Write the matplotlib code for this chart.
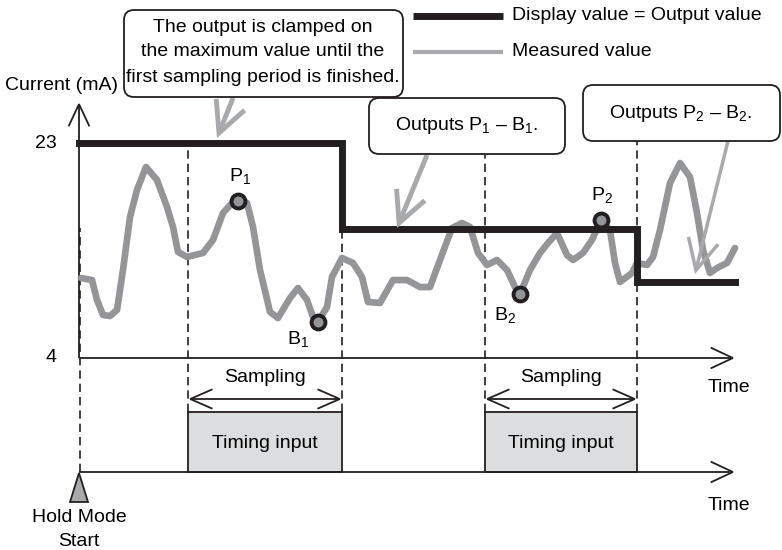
import numpy as np
import matplotlib
matplotlib.use("Agg")
import matplotlib.pyplot as plt
from matplotlib.patches import FancyBboxPatch, Rectangle, Polygon, FancyArrowPatch

plt.rcParams['font.family'] = ['Liberation Sans', 'DejaVu Sans']
plt.rcParams['mathtext.fontset'] = 'custom'
plt.rcParams['mathtext.rm'] = 'Liberation Sans'
plt.rcParams['mathtext.it'] = 'Liberation Sans'

# measured current (time units, mA)
meas_t = [0.2, 1.3, 1.8, 2.4, 3.1, 3.8, 4.4, 5.1, 5.8, 6.7, 7.8, 8.8, 9.4, 9.9, 10.8,
          12.4, 13.4, 14.4, 15.4, 15.9, 16.8, 17.4, 18.1, 19.1, 19.9, 21.1, 21.9, 22.8,
          23.4, 23.9, 24.8, 25.3, 26.3, 27.4, 28.3, 28.9, 30.1, 31.4, 32.8, 34.1, 35.1,
          36.1, 37.3, 38.3, 39.1, 39.9, 40.8, 41.8, 42.8, 43.6, 44.1, 45.1, 46.1, 46.9,
          47.8, 48.8, 49.4, 50.4, 51.3, 52.2, 53.1, 53.6, 54.1, 55.3, 55.8, 56.8, 57.4,
          58.1, 59.1, 60.1, 61.1, 61.8, 62.4, 63.1, 63.8, 64.8, 65.6]
meas_ma = [11.07, 10.89, 9.13, 7.80, 7.71, 8.24, 11.78, 16.46, 18.85, 20.88, 19.73, 17.34,
           15.58, 13.37, 12.93, 13.28, 14.43, 16.81, 17.79, 17.87, 17.70, 15.58, 11.78,
           8.07, 7.53, 9.30, 10.19, 9.13, 7.62, 7.18, 8.51, 11.16, 12.84, 12.40, 11.16,
           8.95, 8.86, 10.89, 10.89, 10.27, 10.27, 12.66, 15.49, 15.93, 15.58, 13.28,
           12.22, 12.66, 11.78, 10.27, 9.66, 11.78, 13.28, 14.16, 15.05, 13.10, 12.66,
           13.28, 14.43, 16.20, 15.31, 12.40, 10.72, 11.51, 12.40, 12.22, 12.93, 15.31,
           19.46, 21.23, 20.00, 16.81, 13.54, 11.51, 11.95, 12.40, 13.72]

# display/output value (step)
out_t = [0.0, 26.3, 26.3, 55.8, 55.8, 65.6]
out_ma = [23.0, 23.0, 15.36, 15.36, 10.75, 10.75]

# sampling windows (timing input)
samp_start = [10.9, 40.6]
samp_end = [26.3, 55.8]

# peak / bottom points
pt_names = ['P$_1$', 'B$_1$', 'B$_2$', 'P$_2$']
pt_t = [15.9, 23.9, 44.1, 52.2]
pt_ma = [17.87, 7.18, 9.66, 16.20]

y_ticks = [4, 23]
t_end = 65.6

BLACK = '#231f20'
GRAY = '#939598'
LGRAY = '#a7a9ac'
FS = 14


def X(px):
    return (px - 79) / 10.0


def Y(py):
    return 4 + (358 - py) * 19 / 215.0


fig = plt.figure(figsize=(7.82, 5.5), dpi=100)
ax = fig.add_axes([0, 0, 1, 1])
ax.set_xlim(X(0), X(782))
ax.set_ylim(Y(550), Y(0))
ax.axis('off')
lay = fig.add_axes([0, 0, 1, 1])
lay.set_xlim(0, 782)
lay.set_ylim(550, 0)
lay.axis('off')
lay.patch.set_alpha(0)


def arrow(a, p0, p1, style, lw=1.3, color=BLACK, z=3):
    a.add_patch(FancyArrowPatch(p0, p1, arrowstyle=style, lw=lw, color=color,
                                mutation_scale=10, shrinkA=0, shrinkB=0,
                                joinstyle='miter', capstyle='butt', zorder=z))

# axes arrows
ax_head = '->,head_length=1.6,head_width=0.75'
arrow(ax, (0, 4), (0, Y(102)), ax_head)
arrow(ax, (0, 4), (t_end, 4), ax_head)
arrow(ax, (0, Y(472)), (t_end, Y(472)), ax_head)

# dashed guides
ax.vlines([0.1], Y(472), Y(228), colors=BLACK, lw=1.2, linestyles=(0, (5, 3)), zorder=2)
guide_top = [Y(143), Y(230), Y(155), Y(141)]
for i, (t0, t1) in enumerate(zip(samp_start, samp_end)):
    ax.vlines([t0], Y(412), guide_top[2 * i], colors=BLACK, lw=1.2, linestyles=(0, (5, 3)), zorder=2)
    ax.vlines([t1], Y(412), guide_top[2 * i + 1], colors=BLACK, lw=1.2, linestyles=(0, (5, 3)), zorder=2)
    arrow(ax, (t0, Y(399)), (t1, Y(399)), '<->,head_length=1.6,head_width=0.7')
    ax.text((t0 + t1) / 2, Y(377), 'Sampling', fontsize=FS, ha='center', va='center')
    ax.add_patch(Rectangle((t0, Y(472)), t1 - t0, Y(412) - Y(472), fc='#dcddde',
                           ec=BLACK, lw=1.3, zorder=2))
    ax.text((t0 + t1) / 2, Y(443), 'Timing input', fontsize=FS, ha='center', va='center', zorder=3)

# curves
ax.plot(meas_t, meas_ma, color=GRAY, lw=4.8, solid_joinstyle='round',
        solid_capstyle='round', zorder=4)
ax.plot(out_t, out_ma, color=BLACK, lw=5, solid_joinstyle='miter', zorder=5)
ax.plot(pt_t, pt_ma, 'o', ms=10, mfc=GRAY, mec=BLACK, mew=2.8, zorder=6)
lab_off = [(0.2, 2.2), (-2.0, -1.5), (-1.5, -1.9), (0.1, 2.2)]
for n, t, v, o in zip(pt_names, pt_t, pt_ma, lab_off):
    ax.text(t + o[0], v + o[1], n, fontsize=FS, ha='center', va='center')

# y labels and other text
for v in y_ticks:
    ax.text(X(57), v, str(v), fontsize=FS, ha='right', va='center')
lay.text(118, 85, 'Current (mA)', fontsize=FS, ha='right', va='center')
lay.text(729, 388, 'Time', fontsize=FS, ha='center', va='center')
lay.text(729, 505, 'Time', fontsize=FS, ha='center', va='center')
lay.text(79, 518, 'Hold Mode', fontsize=FS, ha='center', va='center')
lay.text(79, 541, 'Start', fontsize=FS, ha='center', va='center')
lay.add_patch(Polygon([(79, 473), (70, 502), (88, 502)], closed=True, fc='#a7a9ac',
                      ec=BLACK, lw=1.3, zorder=3))

# legend
lay.plot([413, 503], [16, 16], color=BLACK, lw=5, solid_capstyle='butt')
lay.plot([413, 503], [52, 52], color=LGRAY, lw=3, solid_capstyle='butt')
lay.text(512, 16, 'Display value = Output value', fontsize=FS, ha='left', va='center')
lay.text(512, 52, 'Measured value', fontsize=FS, ha='left', va='center')


# callout boxes
def box(x0, y0, x1, y1):
    lay.add_patch(FancyBboxPatch((x0, y0), x1 - x0, y1 - y0,
                                 boxstyle='round,pad=0,rounding_size=10',
                                 fc='white', ec=BLACK, lw=1.3, zorder=7))

box(124, 10, 403, 97)
for s, yy in zip(['The output is clamped on', 'the maximum value until the',
                  'first sampling period is finished.'], [27, 52, 77]):
    lay.text(263, yy, s, fontsize=FS, ha='center', va='center', zorder=8)
box(369, 98, 565, 154)
lay.text(467, 126, 'Outputs P$_1$ \u2013 B$_1$.', fontsize=FS, ha='center', va='center', zorder=8)
box(583, 85, 780, 141)
lay.text(681, 113, 'Outputs P$_2$ \u2013 B$_2$.', fontsize=FS, ha='center', va='center', zorder=8)

call_head = '->,head_length=2.2,head_width=1.1'
arrow(lay, (233, 98), (217, 138), call_head, lw=3.5, color=LGRAY, z=6)
arrow(lay, (427, 155), (397, 228), call_head, lw=3.5, color=LGRAY, z=6)
arrow(lay, (728, 141), (695, 274), call_head, lw=2.5, color=LGRAY, z=6)

fig.savefig('out.png', dpi=100)
